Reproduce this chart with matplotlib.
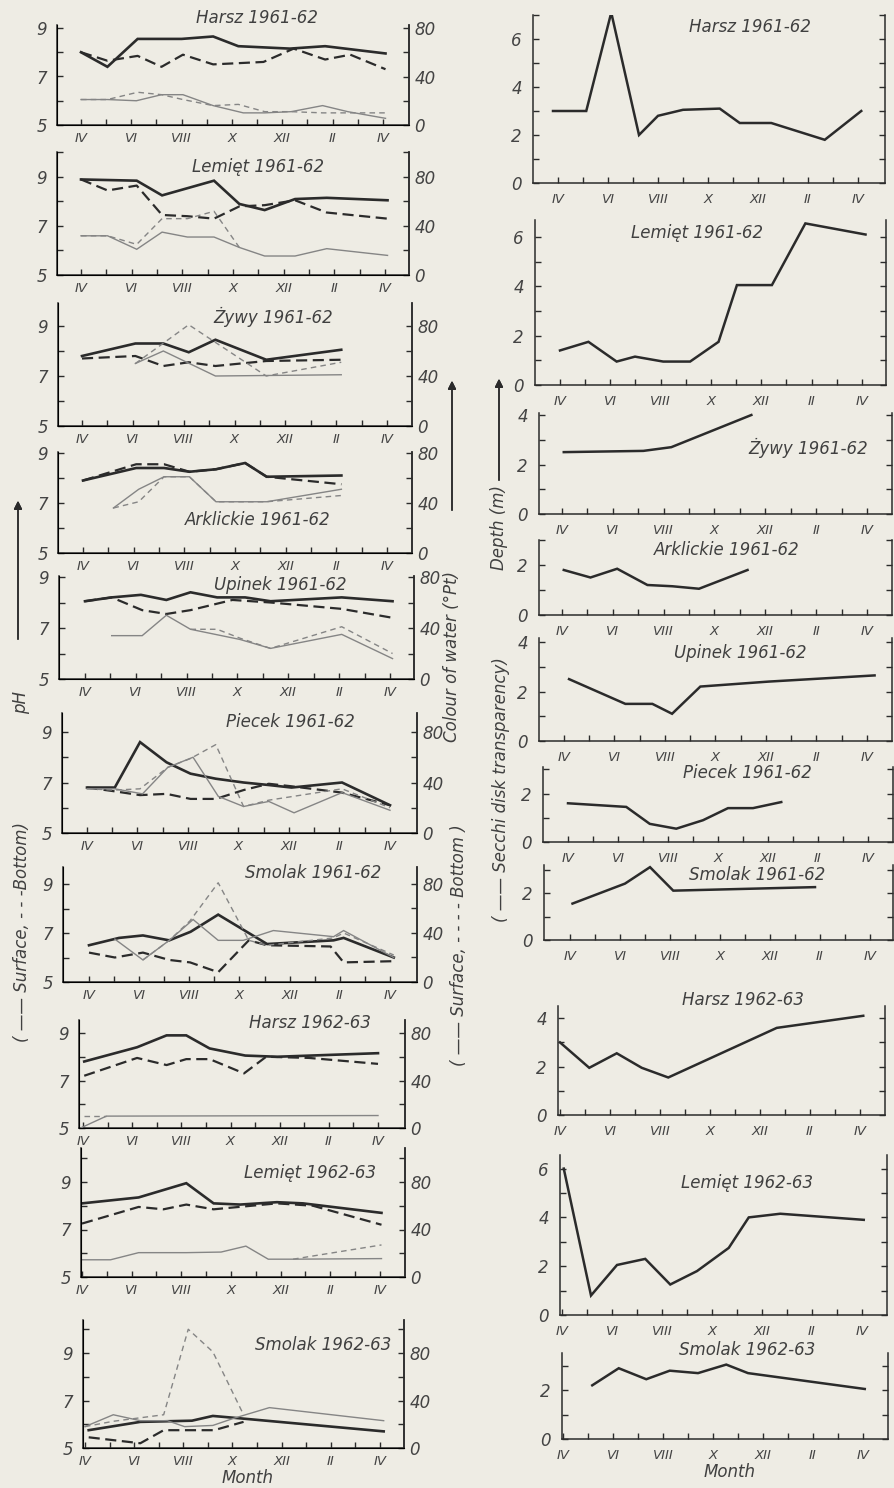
import matplotlib
matplotlib.use('Agg')
import matplotlib.pyplot as plt
from matplotlib.transforms import ScaledTranslation

# ---- data: month index 0 = IV (April), 12 = IV next year ----
month_labels = ['IV', '', 'VI', '', 'VIII', '', 'X', '', 'XII', '', 'II', '', 'IV']

# left column: pH (surface / bottom) and colour of water (surface / bottom)
harsz61_ph_s_m = [0, 1.05, 2.25, 4.0, 5.25, 6.25, 8.3, 9.7, 12.1]
harsz61_ph_s = [8.0, 7.4, 8.55, 8.55, 8.65, 8.25, 8.15, 8.25, 7.95]
harsz61_ph_b_m = [0, 1.05, 2.25, 3.2, 4.05, 5.25, 7.25, 8.45, 9.7, 10.7, 12.1]
harsz61_ph_b = [8.0, 7.65, 7.85, 7.4, 7.9, 7.5, 7.6, 8.15, 7.7, 7.9, 7.3]
harsz61_col_s_m = [0, 1.05, 2.2, 3.2, 4.05, 5.25, 6.45, 7.3, 8.35, 9.6, 10.6, 12.1]
harsz61_col_s = [21, 21, 20, 25, 25, 16, 10, 10, 11, 16, 11, 5.5]
harsz61_col_b_m = [0, 1.05, 2.25, 3.2, 4.05, 5.25, 6.25, 7.3, 8.35, 9.6, 10.6, 12.1]
harsz61_col_b = [21, 21, 27, 25, 21, 16, 17, 11, 11, 10, 10, 10]

lemiet61_ph_s_m = [0, 2.2, 3.2, 5.25, 6.25, 7.25, 8.45, 9.7, 12.1]
lemiet61_ph_s = [8.9, 8.85, 8.25, 8.85, 7.9, 7.65, 8.1, 8.15, 8.05]
lemiet61_ph_b_m = [0, 1.05, 2.2, 3.2, 4.2, 5.25, 6.25, 7.25, 8.45, 9.7, 12.1]
lemiet61_ph_b = [8.9, 8.45, 8.65, 7.45, 7.4, 7.3, 7.8, 7.85, 8.05, 7.55, 7.3]
lemiet61_col_s_m = [0, 1.05, 2.2, 3.2, 4.2, 5.25, 6.25, 7.25, 8.45, 9.7, 12.1]
lemiet61_col_s = [32, 32, 21, 35, 31, 31, 22.5, 15.5, 15.5, 21.5, 16]
lemiet61_col_b_m = [0, 1.05, 2.2, 3.2, 4.2, 5.25, 6.25]
lemiet61_col_b = [32, 32, 25, 46, 46, 52, 22.5]

zywy61_ph_s_m = [0, 2.1, 3.2, 4.2, 5.25, 7.25, 10.2]
zywy61_ph_s = [7.8, 8.3, 8.3, 7.95, 8.45, 7.65, 8.05]
zywy61_ph_b_m = [0, 2.1, 3.2, 4.2, 5.25, 7.25, 10.2]
zywy61_ph_b = [7.7, 7.8, 7.4, 7.55, 7.4, 7.6, 7.65]
zywy61_col_s_m = [2.1, 3.2, 5.25, 10.2]
zywy61_col_s = [50, 60, 40, 41]
zywy61_col_b_m = [2.1, 4.2, 7.25, 10.2]
zywy61_col_b = [50, 81, 40, 51]

arkl61_ph_s_m = [0, 2.1, 3.2, 4.2, 5.25, 6.4, 7.25, 10.2]
arkl61_ph_s = [7.9, 8.4, 8.4, 8.25, 8.35, 8.6, 8.05, 8.1]
arkl61_ph_b_m = [0, 2.1, 3.2, 4.2, 5.25, 6.4, 7.25, 10.2]
arkl61_ph_b = [7.9, 8.55, 8.55, 8.25, 8.35, 8.6, 8.05, 7.75]
arkl61_col_s_m = [1.2, 2.2, 3.2, 4.2, 5.25, 7.25, 10.2]
arkl61_col_s = [36, 51, 61, 61, 41, 41, 51]
arkl61_col_b_m = [1.2, 2.2, 3.2, 4.2, 5.25, 7.25, 10.2]
arkl61_col_b = [36, 41, 61, 61, 41, 41, 46]

upinek61_ph_s_m = [0, 1.05, 2.2, 3.2, 4.15, 5.2, 6.3, 7.3, 10.1, 12.1]
upinek61_ph_s = [8.05, 8.2, 8.3, 8.1, 8.4, 8.2, 8.2, 8.05, 8.2, 8.05]
upinek61_ph_b_m = [0, 1.05, 2.25, 3.2, 4.15, 5.8, 7.3, 10.1, 12.1]
upinek61_ph_b = [8.05, 8.2, 7.7, 7.55, 7.7, 8.1, 8.0, 7.75, 7.4]
upinek61_col_s_m = [1.05, 2.25, 3.2, 4.15, 6.1, 7.3, 10.1, 12.1]
upinek61_col_s = [34, 34, 50, 39, 31, 24, 35, 16]
upinek61_col_b_m = [4.15, 5.2, 6.1, 7.3, 10.1, 12.1]
upinek61_col_b = [39, 39, 32, 24, 41, 20]

piecek61_ph_s_m = [0, 1.1, 2.1, 3.15, 4.1, 5.1, 6.2, 7.2, 8.1, 10.1, 12]
piecek61_ph_s = [6.8, 6.8, 8.6, 7.8, 7.35, 7.15, 7.0, 6.9, 6.8, 7.0, 6.1]
piecek61_ph_b_m = [0, 1.1, 2.1, 3.15, 4.1, 5.1, 6.2, 7.2, 8.1, 10.1, 12]
piecek61_ph_b = [6.8, 6.65, 6.5, 6.55, 6.35, 6.35, 6.7, 6.95, 6.85, 6.6, 6.1]
piecek61_col_s_m = [0, 1.1, 2.2, 3.2, 4.2, 5.2, 6.2, 7.2, 8.2, 10.1, 12]
piecek61_col_s = [35, 35, 31, 52, 60, 29, 21, 25, 16, 32, 18]
piecek61_col_b_m = [0, 1.1, 2.1, 3.2, 4.1, 5.1, 6.2, 7.2, 10.1, 12]
piecek61_col_b = [35, 34, 35, 52, 59, 70, 21, 26, 35, 20]

smolak61_ph_s_m = [0, 1.2, 2.15, 3.2, 4.05, 5.15, 7.1, 9.75, 10.15, 12.15]
smolak61_ph_s = [6.5, 6.8, 6.9, 6.7, 7.05, 7.75, 6.55, 6.7, 6.8, 6.0]
smolak61_ph_b_m = [0, 1.03, 2.15, 3.2, 4.03, 5.15, 6.37, 7.1, 9.63, 10.15, 12.15]
smolak61_ph_b = [6.2, 6.0, 6.2, 5.9, 5.8, 5.4, 6.7, 6.5, 6.45, 5.8, 5.85]
smolak61_col_s_m = [1.03, 2.15, 3.2, 4.15, 5.15, 6.15, 7.35, 9.75, 10.15, 12.15]
smolak61_col_s = [35, 18, 34, 51, 34, 34, 42, 37, 42, 20]
smolak61_col_b_m = [2.15, 3.2, 4.03, 5.15, 6.37, 7.1, 9.75, 10.15, 12.15]
smolak61_col_b = [18, 34, 50, 81, 34, 30, 36, 40, 22]

harsz62_ph_s_m = [0.05, 2.2, 3.4, 4.2, 5.15, 6.6, 7.9, 12.0]
harsz62_ph_s = [7.8, 8.4, 8.9, 8.9, 8.35, 8.05, 8.0, 8.15]
harsz62_ph_b_m = [0.05, 2.2, 3.4, 4.2, 5.15, 6.55, 7.45, 9.2, 12.0]
harsz62_ph_b = [7.2, 7.95, 7.65, 7.9, 7.9, 7.3, 8.0, 7.95, 7.7]
harsz62_col_s_m = [-0.1, 0.95, 12.0]
harsz62_col_s = [0, 10, 10.5]
harsz62_col_b_m = [0.05, 0.95]
harsz62_col_b = [10, 10]

lemiet62_ph_s_m = [0, 2.28, 3.4, 4.2, 5.3, 6.37, 7.85, 8.9, 12.06]
lemiet62_ph_s = [8.1, 8.35, 8.7, 8.95, 8.1, 8.05, 8.15, 8.1, 7.7]
lemiet62_ph_b_m = [0, 2.28, 3.28, 4.2, 5.3, 7.85, 9.3, 12.06]
lemiet62_ph_b = [7.25, 7.95, 7.85, 8.05, 7.85, 8.1, 8.0, 7.2]
lemiet62_col_s_m = [0, 1.15, 2.28, 4.2, 5.6, 6.6, 7.5, 8.5, 12.06]
lemiet62_col_s = [14.5, 14.5, 20.5, 20.5, 21, 26, 15, 15, 15.5]
lemiet62_col_b_m = [8.5, 12.06]
lemiet62_col_b = [15, 27]

smolak62_ph_s_m = [0.15, 2.25, 4.35, 5.2, 6.3, 12.15]
smolak62_ph_s = [5.75, 6.1, 6.15, 6.35, 6.25, 5.7]
smolak62_ph_b_m = [0.15, 2.25, 3.2, 5.25, 6.45]
smolak62_ph_b = [5.45, 5.2, 5.75, 5.75, 6.1]
smolak62_col_s_m = [0, 1.15, 2.25, 3.35, 4.05, 5.2, 6.05, 7.5, 12.15]
smolak62_col_s = [18, 28, 23, 23, 18, 19, 25, 34, 23]
smolak62_col_b_m = [0, 1.15, 3.2, 4.2, 5.2, 6.45]
smolak62_col_b = [18, 22.5, 28, 100, 81, 28]

# right column: Secchi disk transparency (m)
harsz61_sec_m = [-0.2, 1.13, 2.13, 3.24, 4.0, 5.0, 6.47, 7.27, 8.53, 10.67, 12.13]
harsz61_sec = [3.0, 3.0, 7.1, 2.0, 2.8, 3.05, 3.1, 2.5, 2.5, 1.8, 3.0]
lemiet61_sec_m = [0, 1.13, 2.25, 2.98, 4.1, 5.17, 6.3, 7.03, 8.42, 9.75, 12.14]
lemiet61_sec = [1.4, 1.75, 0.95, 1.15, 0.95, 0.95, 1.75, 4.05, 4.05, 6.55, 6.1]
zywy61_sec_m = [0.07, 3.2, 4.3, 7.45]
zywy61_sec = [2.5, 2.55, 2.7, 4.0]
arkl61_sec_m = [0.07, 1.12, 2.17, 3.36, 4.34, 5.39, 7.3]
arkl61_sec = [1.8, 1.5, 1.85, 1.2, 1.15, 1.05, 1.8]
upinek61_sec_m = [0.2, 2.43, 3.5, 4.28, 5.4, 8.1, 12.3]
upinek61_sec = [2.5, 1.5, 1.5, 1.1, 2.2, 2.4, 2.65]
piecek61_sec_m = [0, 2.33, 3.27, 4.33, 5.4, 6.4, 7.4, 8.53]
piecek61_sec = [1.6, 1.45, 0.75, 0.55, 0.9, 1.4, 1.4, 1.65]
smolak61_sec_m = [0.1, 2.2, 3.2, 4.13, 9.8]
smolak61_sec = [1.55, 2.4, 3.1, 2.1, 2.25]
harsz62_sec_m = [0, 1.17, 2.27, 3.27, 4.33, 8.67, 12.13]
harsz62_sec = [3.0, 1.95, 2.55, 1.95, 1.55, 3.6, 4.1]
lemiet62_sec_m = [0.07, 1.16, 2.2, 3.33, 4.33, 5.4, 6.67, 7.47, 8.73, 12.07]
lemiet62_sec = [6.0, 0.8, 2.05, 2.3, 1.25, 1.8, 2.75, 4.0, 4.15, 3.9]
smolak62_sec_m = [1.17, 2.23, 3.33, 4.27, 5.4, 6.53, 7.4, 12.07]
smolak62_sec = [2.2, 2.9, 2.45, 2.8, 2.7, 3.05, 2.7, 2.05]

# ---- figure ----
W, H = 895, 1488
BG = '#eeece4'
INK = '#2b2b2b'
THIN = '#858585'
plt.rcParams['font.family'] = ['DejaVu Sans']
plt.rcParams['font.style'] = 'italic'

fig = plt.figure(figsize=(W / 100, H / 100), dpi=100, facecolor=BG)


def px_axes(left, top, right, bottom):
    return fig.add_axes([left / W, 1 - bottom / H, (right - left) / W, (bottom - top) / H])


def style_axes(ax, tick0, tick12, left, right):
    sp = (tick12 - tick0) / 12
    ax.set_xlim(-(tick0 - left) / sp, 12 + (right - tick12) / sp)
    ax.set_facecolor('none')
    ax.spines['top'].set_visible(False)
    for s in ['left', 'right', 'bottom']:
        ax.spines[s].set_color(INK)
        ax.spines[s].set_linewidth(1.1)
    ax.set_xticks(range(13))
    ax.set_xticklabels(month_labels, fontsize=9.5, color='#444444')
    off = ScaledTranslation(8 / 100, 0, fig.dpi_scale_trans)
    for lab in ax.get_xticklabels():
        lab.set_transform(lab.get_transform() + off)
    ax.tick_params(axis='x', direction='in', length=4, width=1, color=INK, pad=5)
    ax.tick_params(axis='y', direction='in', length=4, width=1, color=INK, pad=7,
                   labelsize=12, labelcolor='#444444')


def title(x, y, s):
    fig.text(x / W, 1 - y / H, s, ha='center', va='center', fontsize=12, color='#404040')


# left column layout: left, right, top, bottom, tick0, tick12, px per pH unit, title pos
left_panels = [
    ('Harsz 1961-62', (57, 409, 25, 125, 81, 383, 24.25), (257, 18),
     harsz61_ph_s_m, harsz61_ph_s, harsz61_ph_b_m, harsz61_ph_b,
     harsz61_col_s_m, harsz61_col_s, harsz61_col_b_m, harsz61_col_b),
    ('Lemięt 1961-62', (57, 409, 152, 275, 81, 385, 24.5), (258, 167),
     lemiet61_ph_s_m, lemiet61_ph_s, lemiet61_ph_b_m, lemiet61_ph_b,
     lemiet61_col_s_m, lemiet61_col_s, lemiet61_col_b_m, lemiet61_col_b),
    ('Żywy 1961-62', (58, 412, 303, 426, 82, 387, 25), (273, 317),
     zywy61_ph_s_m, zywy61_ph_s, zywy61_ph_b_m, zywy61_ph_b,
     zywy61_col_s_m, zywy61_col_s, zywy61_col_b_m, zywy61_col_b),
    ('Arklickie 1961-62', (58, 412, 452, 553, 83, 387, 25), (258, 520),
     arkl61_ph_s_m, arkl61_ph_s, arkl61_ph_b_m, arkl61_ph_b,
     arkl61_col_s_m, arkl61_col_s, arkl61_col_b_m, arkl61_col_b),
    ('Upinek 1961-62', (59, 414, 576, 679, 85, 390, 25.5), (280, 585),
     upinek61_ph_s_m, upinek61_ph_s, upinek61_ph_b_m, upinek61_ph_b,
     upinek61_col_s_m, upinek61_col_s, upinek61_col_b_m, upinek61_col_b),
    ('Piecek 1961-62', (62, 417, 713, 833, 87, 390, 25.25), (290, 722),
     piecek61_ph_s_m, piecek61_ph_s, piecek61_ph_b_m, piecek61_ph_b,
     piecek61_col_s_m, piecek61_col_s, piecek61_col_b_m, piecek61_col_b),
    ('Smolak 1961-62', (63, 417, 867, 982, 89, 390, 24.5), (313, 873),
     smolak61_ph_s_m, smolak61_ph_s, smolak61_ph_b_m, smolak61_ph_b,
     smolak61_col_s_m, smolak61_col_s, smolak61_col_b_m, smolak61_col_b),
    ('Harsz 1962-63', (79, 405, 1020, 1128, 83, 378, 23.75), (310, 1023),
     harsz62_ph_s_m, harsz62_ph_s, harsz62_ph_b_m, harsz62_ph_b,
     harsz62_col_s_m, harsz62_col_s, harsz62_col_b_m, harsz62_col_b),
    ('Lemięt 1962-63', (81, 405, 1148, 1277, 82, 380, 23.75), (310, 1173),
     lemiet62_ph_s_m, lemiet62_ph_s, lemiet62_ph_b_m, lemiet62_ph_b,
     lemiet62_col_s_m, lemiet62_col_s, lemiet62_col_b_m, lemiet62_col_b),
    ('Smolak 1962-63', (83, 404, 1320, 1448, 85, 380, 23.75), (323, 1345),
     smolak62_ph_s_m, smolak62_ph_s, smolak62_ph_b_m, smolak62_ph_b,
     smolak62_col_s_m, smolak62_col_s, smolak62_col_b_m, smolak62_col_b),
]

for (name, (l, r, t, b, t0, t12, unit), tpos,
     pms, ps, pmb, pb, cms, cs, cmb, cb) in left_panels:
    ax = px_axes(l, t, r, b)
    style_axes(ax, t0, t12, l, r)
    ytop = 5 + (b - t) / unit
    ax.set_ylim(5, ytop)
    yt = [v for v in range(5, 11) if v <= ytop + 0.01]
    ax.set_yticks(yt)
    ax.set_yticklabels([str(v) if v in (5, 7, 9) else '' for v in yt])
    ax2 = ax.twinx()
    ax2.set_ylim(0, (ytop - 5) * 20)
    ax2.set_facecolor('none')
    ax2.spines['top'].set_visible(False)
    ax2.spines['right'].set_color(INK)
    ax2.spines['right'].set_linewidth(1.1)
    ct = [v for v in range(0, 120, 20) if v <= (ytop - 5) * 20 + 0.2]
    ax2.set_yticks(ct)
    ax2.set_yticklabels([str(v) if v in (0, 40, 80) else '' for v in ct])
    ax2.tick_params(axis='y', direction='in', length=4, width=1, color=INK, pad=4,
                    labelsize=12, labelcolor='#444444')
    ax2.plot(cms, cs, color=THIN, lw=1.0, solid_joinstyle='miter')
    ax2.plot(cmb, cb, color=THIN, lw=1.0, ls=(0, (4, 3)))
    ax.plot(pms, ps, color=INK, lw=1.9, solid_joinstyle='miter', zorder=5)
    ax.plot(pmb, pb, color=INK, lw=1.6, ls=(0, (5, 2.5)), zorder=5)
    title(tpos[0], tpos[1], name)

# right column layout: left, right, top, bottom, tick0, tick12, px per metre, title pos
right_panels = [
    ('Harsz 1961-62', (533, 885, 15, 183, 558, 858, 24.0), (750, 27), harsz61_sec_m, harsz61_sec),
    ('Lemięt 1961-62', (535, 886, 220, 385, 560, 862, 24.67), (697, 233), lemiet61_sec_m, lemiet61_sec),
    ('Żywy 1961-62', (539, 892, 413, 514, 562, 867, 24.75), (808, 448), zywy61_sec_m, zywy61_sec),
    ('Arklickie 1961-62', (539, 892, 540, 615, 562, 867, 25.0), (727, 550), arkl61_sec_m, arkl61_sec),
    ('Upinek 1961-62', (539, 892, 638, 741, 564, 867, 24.75), (740, 653), upinek61_sec_m, upinek61_sec),
    ('Piecek 1961-62', (543, 893, 767, 842, 568, 868, 24.2), (747, 773), piecek61_sec_m, piecek61_sec),
    ('Smolak 1961-62', (544, 893, 865, 940, 570, 870, 23.5), (757, 875), smolak61_sec_m, smolak61_sec),
    ('Harsz 1962-63', (558, 885, 1006, 1115, 560, 860, 24.2), (743, 1000), harsz62_sec_m, harsz62_sec),
    ('Lemięt 1962-63', (560, 887, 1155, 1315, 562, 862, 24.4), (747, 1183), lemiet62_sec_m, lemiet62_sec),
    ('Smolak 1962-63', (562, 888, 1353, 1439, 563, 863, 24.4), (747, 1350), smolak62_sec_m, smolak62_sec),
]

for name, (l, r, t, b, t0, t12, unit), tpos, sm, sv in right_panels:
    ax = px_axes(l, t, r, b)
    style_axes(ax, t0, t12, l, r)
    ytop = (b - t) / unit
    ax.set_ylim(0, ytop)
    yt = [v for v in range(0, 8) if v <= ytop + 0.05]
    ax.set_yticks(yt)
    ax.set_yticklabels([str(v) if v % 2 == 0 else '' for v in yt])
    ax.tick_params(axis='y', right=True, pad=8)
    ax.tick_params(axis='x', pad=7)
    ax.plot(sm, sv, color=INK, lw=1.8, solid_joinstyle='miter')
    title(tpos[0], tpos[1], name)

# ---- side labels ----
def vtext(x, y, s, size=12):
    fig.text(x / W, 1 - y / H, s, rotation=90, ha='center', va='center',
             fontsize=size, color='#404040')


def varrow(x, y0, y1):
    fig.add_artist(plt.annotate('', xy=(x, H - y1), xytext=(x, H - y0),
                                xycoords='figure pixels', textcoords='figure pixels',
                                arrowprops=dict(arrowstyle='-|>', color=INK, lw=1.1,
                                                mutation_scale=12)))


varrow(18, 642, 498)
vtext(21, 703, 'pH')
vtext(22, 932, '( —— Surface, - - -Bottom)')

varrow(452, 513, 378)
vtext(452, 656, 'Colour of water (°Pt)')
vtext(459, 945, '( —— Surface, - - - - Bottom )')

varrow(499, 483, 376)
vtext(499, 527, 'Depth (m)')
vtext(501, 790, '( —— Secchi disk transparency)')

fig.text(248 / W, 1 - 1478 / H, 'Month', ha='center', va='center', fontsize=12, color='#404040')
fig.text(730 / W, 1 - 1472 / H, 'Month', ha='center', va='center', fontsize=12, color='#404040')

fig.savefig('out.png', dpi=100, facecolor=BG)
